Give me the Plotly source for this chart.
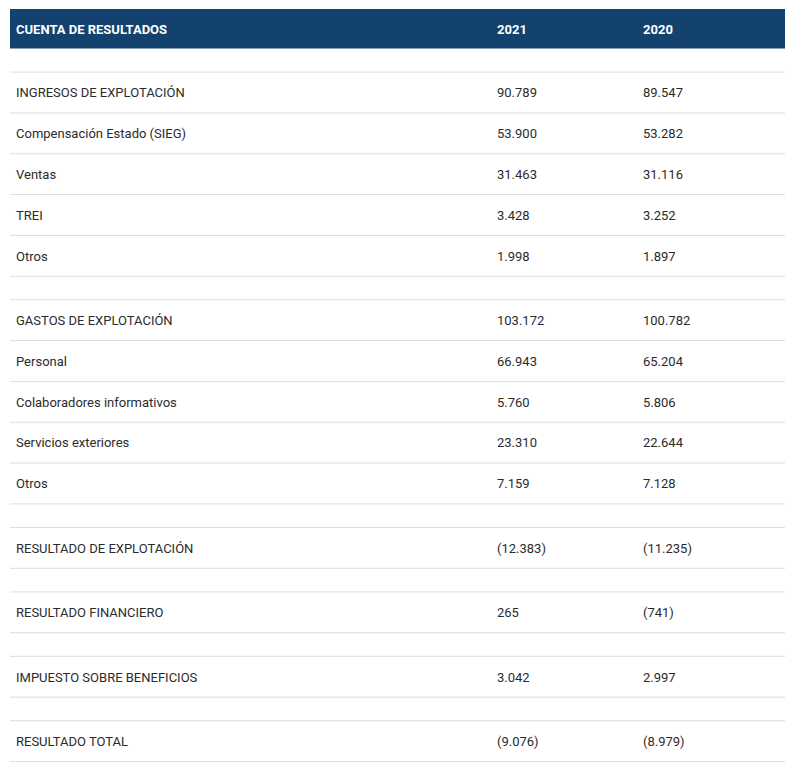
import plotly.graph_objects as go

# table content
header = ["CUENTA DE RESULTADOS", "2021", "2020"]
labels = ["", "INGRESOS DE EXPLOTACIÓN", "Compensación Estado (SIEG)", "Ventas", "TREI", "Otros",
          "", "GASTOS DE EXPLOTACIÓN", "Personal", "Colaboradores informativos", "Servicios exteriores", "Otros",
          "", "RESULTADO DE EXPLOTACIÓN",
          "", "RESULTADO FINANCIERO",
          "", "IMPUESTO SOBRE BENEFICIOS",
          "", "RESULTADO TOTAL"]
values_2021 = ["", "90.789", "53.900", "31.463", "3.428", "1.998",
               "", "103.172", "66.943", "5.760", "23.310", "7.159",
               "", "(12.383)",
               "", "265",
               "", "3.042",
               "", "(9.076)"]
values_2020 = ["", "89.547", "53.282", "31.116", "3.252", "1.897",
               "", "100.782", "65.204", "5.806", "22.644", "7.128",
               "", "(11.235)",
               "", "(741)",
               "", "2.997",
               "", "(8.979)"]

W, H = 796, 773
PAD = 8  # page body margin around the plot div
left, right = 10, 785
col_x = [16, 497, 643]
head_top, head_bot = 9, 48.5
row_h, spacer_h = 40.82, 23.6
text_nudge = 1.5  # glyphs sit a bit low in the source cells

font = "Roboto"
text_color = "#2b2b2b"
rule_color = "#dddddd"
head_color = "#13426f"

# row positions from the data (blank label = spacer row)
centers, bottoms = [], []
y = head_bot
for lab in labels:
    h = spacer_h if lab == "" else row_h
    centers.append(y + h / 2 + text_nudge)
    y += h
    bottoms.append(y)

fig = go.Figure()

shapes = [dict(type="rect", xref="x", yref="y", x0=left, x1=right, y0=head_top, y1=head_bot,
               fillcolor=head_color, line_width=0, layer="below")]
for b in bottoms:
    shapes.append(dict(type="line", xref="x", yref="y", x0=left, x1=right, y0=b, y1=b,
                       line=dict(color=rule_color, width=1), layer="below"))

head_y = (head_top + head_bot) / 2 + text_nudge
fig.add_trace(go.Scatter(
    x=col_x, y=[head_y] * 3, text=[f"<b>{t}</b>" for t in header],
    mode="text", textposition="middle right",
    textfont=dict(family=font, size=13, color="white"),
    hoverinfo="skip"))

for cx, col in zip(col_x, [labels, values_2021, values_2020]):
    fig.add_trace(go.Scatter(
        x=[cx] * len(col), y=centers, text=col,
        mode="text", textposition="middle right",
        textfont=dict(family=font, size=13, color=text_color),
        hoverinfo="skip"))

fig.update_layout(
    width=W - 2 * PAD, height=H - 2 * PAD,
    margin=dict(l=0, r=0, t=0, b=0),
    plot_bgcolor="white", paper_bgcolor="white",
    showlegend=False,
    shapes=shapes,
    xaxis=dict(range=[PAD, W - PAD], visible=False, fixedrange=True),
    yaxis=dict(range=[H - PAD, PAD], visible=False, fixedrange=True),
)

fig.write_html("out.html", config={"displayModeBar": False})
